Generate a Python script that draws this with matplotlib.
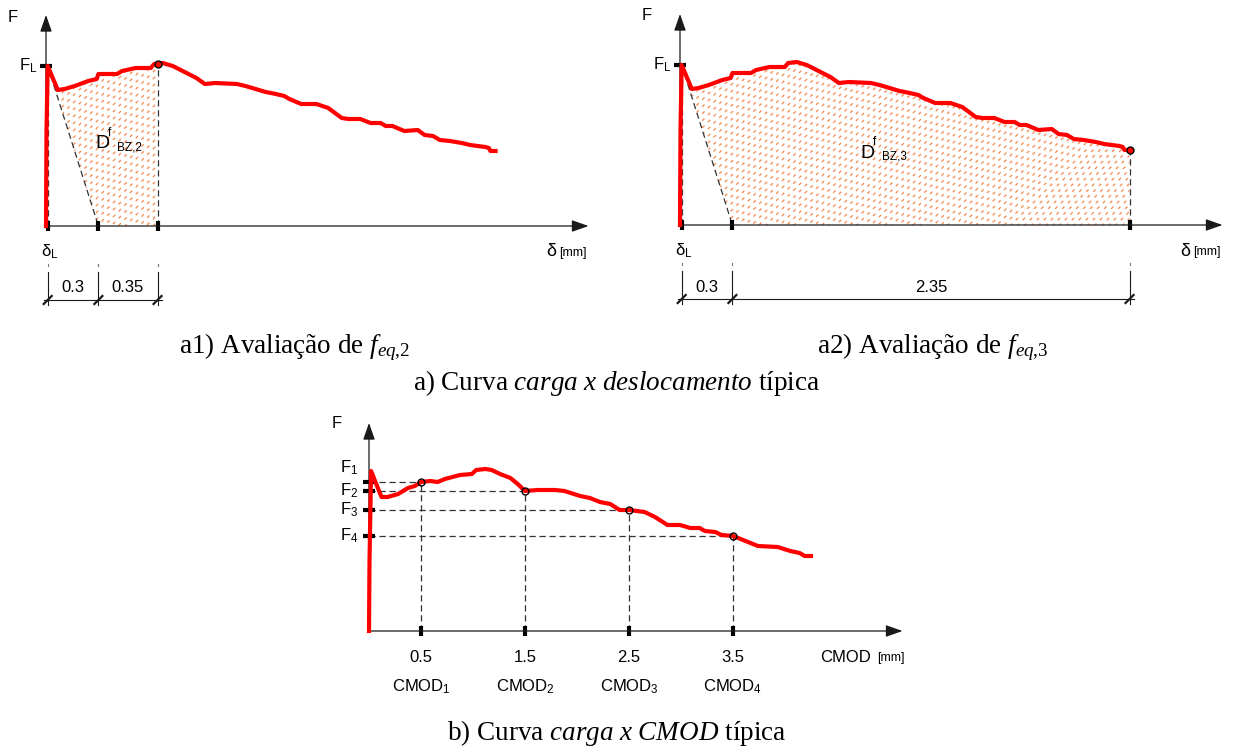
import numpy as np
import matplotlib
matplotlib.use('Agg')
import matplotlib.pyplot as plt
from matplotlib.patches import Polygon
from matplotlib.collections import LineCollection

plt.rcParams['font.family'] = ['Liberation Sans', 'DejaVu Sans']
plt.rcParams['mathtext.fontset'] = 'custom'
plt.rcParams['mathtext.rm'] = 'Liberation Serif'
plt.rcParams['mathtext.it'] = 'Liberation Serif:italic'
plt.rcParams['mathtext.sf'] = 'Liberation Sans'

# load - deflection curve (delta in mm, F in kN)
delta_a = [0.0, 0.003, 0.01, 0.07, 0.11, 0.17, 0.25, 0.30, 0.31, 0.38, 0.42, 0.45, 0.53, 0.62,
           0.64, 0.69, 0.75, 0.82, 0.89, 0.94, 1.00, 1.13, 1.18, 1.30, 1.36, 1.41, 1.44, 1.51,
           1.60, 1.67, 1.75, 1.79, 1.86, 1.92, 1.98, 2.01, 2.05, 2.12, 2.20, 2.24, 2.29, 2.33,
           2.39, 2.46, 2.51, 2.60, 2.62, 2.63, 2.66]
F_a = [0.0, 9.6, 16.0, 13.6, 13.7, 14.0, 14.5, 14.7, 15.2, 15.2, 15.2, 15.5, 15.8, 15.8,
       16.2, 16.3, 16.0, 15.4, 14.8, 14.2, 14.3, 14.2, 14.0, 13.4, 13.2, 13.0, 12.7, 12.2,
       12.2, 11.8, 10.8, 10.7, 10.7, 10.3, 10.3, 10.0, 10.0, 9.5, 9.6, 9.1, 9.0, 8.6,
       8.5, 8.3, 8.1, 7.9, 7.8, 7.5, 7.5]
delta_L = 0.01
F_L = 16.0
dim_a1 = [0.3, 0.35]
dim_a2 = [0.3, 2.35]

# load - CMOD curve
cmod_b = [0.0, 0.005, 0.02, 0.12, 0.18, 0.28, 0.375, 0.44, 0.5, 0.59, 0.66, 0.73, 0.875, 0.99,
          1.03, 1.12, 1.18, 1.26, 1.36, 1.43, 1.5, 1.62, 1.79, 1.88, 2.03, 2.125, 2.22, 2.32,
          2.41, 2.5, 2.65, 2.75, 2.87, 2.99, 3.09, 3.18, 3.23, 3.33, 3.39, 3.5, 3.55, 3.62,
          3.74, 3.93, 4.05, 4.14, 4.19, 4.25]
F_b = [0.0, 7.1, 16.0, 13.4, 13.4, 13.7, 14.3, 14.5, 14.9, 15.0, 14.9, 15.2, 15.6, 15.7,
       16.1, 16.2, 16.1, 15.7, 15.3, 14.7, 14.0, 14.1, 14.1, 14.0, 13.5, 13.3, 12.9, 12.7,
       12.1, 12.1, 11.9, 11.4, 10.6, 10.6, 10.3, 10.3, 10.0, 9.9, 9.6, 9.5, 9.3, 9.0,
       8.5, 8.4, 8.0, 7.8, 7.5, 7.5]
cmod_pts = [0.5, 1.5, 2.5, 3.5]
F_pts = [14.9, 14.0, 12.1, 9.5]
F_names = ['1', '2', '3', '4']

W, H = 1234, 749
RED = '#ff0000'
AXC = '#1a1a1a'
DASH = dict(color='#333333', lw=0.9, ls=(0, (5, 3)))
HATCH = '#f4925e'
FS = 12

fig = plt.figure(figsize=(W / 100, H / 100), dpi=100)


def panel(box, origin, sx, sy):
    x0, y0, x1, y1 = box
    ax = fig.add_axes([x0 / W, 1 - y1 / H, (x1 - x0) / W, (y1 - y0) / H])
    ax.set_xlim((x0 - origin[0]) / sx, (x1 - origin[0]) / sx)
    ax.set_ylim((origin[1] - y1) / sy, (origin[1] - y0) / sy)
    ax.axis('off')
    ax.sx, ax.sy = sx, sy
    return ax


def axes_arrows(ax, xmax, ymax):
    style = dict(arrowstyle='-|>,head_length=0.85,head_width=0.3', color=AXC, lw=0.9,
                 shrinkA=0, shrinkB=0, mutation_scale=12)
    ax.annotate('', xy=(xmax, 0), xytext=(0, 0), arrowprops=style)
    ax.annotate('', xy=(0, ymax), xytext=(0, 0), arrowprops=style)


def hatch(ax, verts):
    poly = Polygon(verts, closed=True, facecolor='none', edgecolor='none')
    ax.add_patch(poly)
    segs = []
    for c in np.arange(-1500, 1500, 7):
        xp = np.array([-200, 1200])
        segs.append(np.column_stack([xp / ax.sx, (xp + c) / ax.sy]))
    lc = LineCollection(segs, colors=HATCH, linewidths=1.0, linestyles=[(0, (2.4, 3.4))])
    ax.add_collection(lc)
    lc.set_clip_path(poly)


def axis_tick_x(ax, x):
    ax.plot([x, x], [-0.5, 0.5], color='black', lw=3, solid_capstyle='butt')


def axis_tick_y(ax, y, half):
    ax.plot([-half, half], [y, y], color='black', lw=3, solid_capstyle='butt')


def dimension(ax, xs, y, labels):
    dx, dy = 4 / ax.sx, 4 / ax.sy
    for x in xs:
        ax.plot([x, x], [-3.8, -4.0], color='#777777', lw=0.8)
        ax.plot([x, x], [-4.6, y - 0.5], color=AXC, lw=0.8)
        ax.plot([x - dx, x + dx], [y - dy, y + dy], color=AXC, lw=1.6)
    ax.plot([xs[0] - dx, xs[-1] + dx], [y, y], color=AXC, lw=0.8)
    for a, b, lab in zip(xs[:-1], xs[1:], labels):
        ax.text((a + b) / 2, y + 1.2, lab, ha='center', va='center', size=FS)


def delta_panel(ax, dims):
    d = np.array(delta_a)
    f = np.array(F_a)
    x_un = delta_L + dims[0]
    x_end = delta_L + sum(dims)
    f_end = np.interp(x_end, d, f)
    sel = (d > delta_L) & (d < x_end)
    verts = [(delta_L, F_L), (x_un, 0), (x_end, 0), (x_end, f_end)]
    verts += list(zip(d[sel][::-1], f[sel][::-1]))
    hatch(ax, verts)

    axes_arrows(ax, 3.21, 21.1)
    ax.plot([delta_L, delta_L], [0, F_L], **DASH)
    ax.plot([delta_L, x_un], [F_L, 0], **DASH)
    ax.plot([x_end, x_end], [0, f_end], **DASH)
    ax.plot(d, f, color=RED, lw=3, solid_joinstyle='round', zorder=4)
    ax.plot([x_end], [f_end], 'o', ms=5, mfc=RED, mec='black', mew=1, zorder=5)
    for x in [delta_L, x_un, x_end]:
        axis_tick_x(ax, x)
    axis_tick_y(ax, F_L, 0.035)

    ax.text(-0.195, 20.9, 'F', ha='center', va='center', size=FS)
    ax.text(-0.05, F_L, r'F$_{\mathsf{L}}$', ha='right', va='center', size=FS)
    ax.text(delta_L + 0.01, -2.6, r'δ$_{\mathsf{L}}$', ha='center', va='center', size=FS)
    ax.text(2.96, -2.6, 'δ', ha='left', va='center', size=13)
    ax.annotate('[mm]', xy=(2.96, -2.6), xytext=(9, -0.5), textcoords='offset points',
                ha='left', va='center', size=9)

    dimension(ax, [delta_L, x_un, x_end], -7.4, [f'{v:g}' for v in dims])


def area_label(ax, x, y, sub):
    ax.text(x, y, 'D', ha='left', va='center', size=14)
    ax.annotate('f', xy=(x, y), xytext=(9.0, 8.0), textcoords='offset points',
                ha='left', va='center', size=8.5)
    ax.annotate(sub, xy=(x, y), xytext=(16.0, -2.3), textcoords='offset points',
                ha='left', va='center', size=8.5)


ax1 = panel((0, 0, 617, 320), (46, 226), 169, 10)
delta_panel(ax1, dim_a1)
area_label(ax1, 0.29, 8.2, 'BZ,2')

ax2 = panel((617, 0, 1234, 320), (680, 225), 169, 10)
delta_panel(ax2, dim_a2)
area_label(ax2, 1.065, 7.2, 'BZ,3')

# CMOD panel
ax3 = panel((300, 400, 940, 720), (369, 631), 104, 10)
axes_arrows(ax3, 5.13, 20.8)
for c, fv in zip(cmod_pts, F_pts):
    ax3.plot([0, c], [fv, fv], **DASH)
    ax3.plot([c, c], [0, fv], **DASH)
ax3.plot(cmod_b, F_b, color=RED, lw=3, solid_joinstyle='round', zorder=4)
ax3.plot(cmod_pts, F_pts, 'o', ms=5, mfc='none', mec='black', mew=1, zorder=5)
label_shift = [1.4, 0.0, 0.0, 0.0]
for i, (c, fv) in enumerate(zip(cmod_pts, F_pts)):
    axis_tick_x(ax3, c)
    axis_tick_y(ax3, fv, 0.055)
    ax3.text(-0.1, fv + label_shift[i], r'F$_{\mathsf{%s}}$' % F_names[i],
             ha='right', va='center', size=FS)
    ax3.text(c, -2.6, f'{c:g}', ha='center', va='center', size=FS)
    ax3.text(c, -5.6, r'CMOD$_{\mathsf{%s}}$' % F_names[i], ha='center', va='center', size=FS)
ax3.text(-0.31, 20.8, 'F', ha='center', va='center', size=FS)
ax3.text(4.34, -2.6, 'CMOD', ha='left', va='center', size=FS)
ax3.annotate('[mm]', xy=(4.34, -2.6), xytext=(41, -0.5), textcoords='offset points',
             ha='left', va='center', size=9)

# captions
cap = dict(family='Liberation Serif', size=19.5, ha='center', va='center')
fig.text(295 / W, 1 - 347 / H, r'a1) Avaliação de $\mathit{f}_{\mathit{eq{,}2}}$', **cap)
fig.text(933 / W, 1 - 347 / H, r'a2) Avaliação de $\mathit{f}_{\mathit{eq{,}3}}$', **cap)
fig.text(617 / W, 1 - 383 / H, r'a) Curva $\mathit{carga\ x\ deslocamento}$ típica', **cap)
fig.text(617 / W, 1 - 733 / H, r'b) Curva $\mathit{carga\ x\ CMOD}$ típica', **cap)

fig.savefig('out.png', dpi=100, facecolor='white')
